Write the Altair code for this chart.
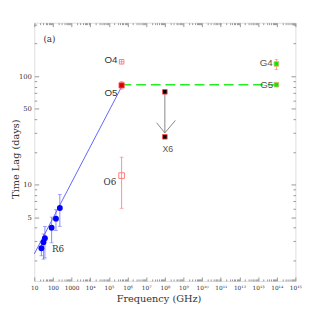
import altair as alt
import pandas as pd

# ---- data ----
R6_FREQ = [24, 31, 37, 85, 145, 234]
R6_LAG = [2.58, 2.94, 3.2, 3.99, 4.84, 6.08]
R6_LO = [2.2, 2.05, 2.1, 2.9, 3.77, 4.12]
R6_HI = [3.0, 3.5, 4.1, 5.0, 5.86, 8.07]

FIT_FREQ = [10, 4.8e5]
FIT_LAG = [2.29, 80]

O_FREQ = 4.8e5
O4_LAG = 136
O5_LAG, O5_LO, O5_HI = 82.4, 76, 89.6
O6_LAG, O6_LO, O6_HI = 12.1, 6.04, 17.9

X6_FREQ = 1e8
X6_UPPER, X6_LOWER = 71.8, 27.6
ARROW_TIP = 30
ARROW_WING_FREQ = [3.6e7, 3.67e8]
ARROW_WING_LAG = [37.2, 39.1]

G_FREQ = 9.6e13
G4_LAG, G4_LO, G4_HI = 130, 115, 143
G5_LAG = 83.6

DASH_FREQ = [4.8e5, 9.6e13]
DASH_LAG = [83.6, 83.6]

X_TICK_LABELS = ["", "10", "100", "1000", "10⁴", "10⁵", "10⁶", "10⁷", "10⁸",
                 "10⁹", "10¹⁰", "10¹¹", "10¹²", "10¹³", "10¹⁴", "10¹⁵"]
Y_LABELED = [5, 10, 50, 100]

# ---- layout ----
W, H = 268, 265
x_ticks = [m * 10 ** e for e in range(1, 15) for m in range(1, 10)] + [1e15]
y_ticks = [m * 10 ** e for e in range(0, 3) for m in range(1, 10)]
y_ticks = [v for v in y_ticks if 1.29 <= v <= 312]

lab_arr = "[" + ",".join("'" + s + "'" for s in X_TICK_LABELS) + "]"
dec_test = "abs(log(datum.value)/LN10 - round(log(datum.value)/LN10)) < 0.001"

xaxis = alt.Axis(
    values=x_ticks, domain=False, ticks=False, grid=True,
    gridColor="#8a8a8a", gridWidth=0.9,
    gridDash={"condition": {"test": dec_test, "value": [4, H - 8]}, "value": [2, H - 4]},
    labelExpr=f"{dec_test} ? {lab_arr}[round(log(datum.value)/LN10)] : ''",
    labelFont="DejaVu Serif", labelFontSize=6, labelColor="#333",
    labelPadding=4, labelFlush=False, labelOverlap=False,
    title="Frequency (GHz)", titleFont="DejaVu Serif", titleFontSize=10,
    titleFontWeight="normal", titleColor="#333",
    titleX=127.5, titleY=18, titleAlign="center", titleBaseline="middle",
)
ylab_test = "indexof([5,10,50,100], datum.value) >= 0"
yaxis = alt.Axis(
    values=y_ticks, domain=False, ticks=False, grid=True,
    gridColor="#8a8a8a", gridWidth=0.9,
    gridDash={"condition": {"test": ylab_test, "value": [4.5, W - 9]}, "value": [2.5, W - 5]},
    labelExpr=f"{ylab_test} ? format(datum.value, 'd') : ''",
    labelFont="DejaVu Serif", labelFontSize=7, labelColor="#333",
    labelPadding=3, labelFlush=False, labelOverlap=False,
    title="Time Lag (days)", titleFont="DejaVu Serif", titleFontSize=10,
    titleFontWeight="normal", titleColor="#333",
    titleX=-19.5, titleY=139.5, titleAngle=270, titleAlign="center", titleBaseline="middle",
)
xs = alt.Scale(type="log", domain=[10, 1e15], nice=False)
ys = alt.Scale(type="log", domain=[1.29, 312], nice=False)


def X(f="f"):
    return alt.X(f"{f}:Q", scale=xs, axis=xaxis)


def Y(f="v"):
    return alt.Y(f"{f}:Q", scale=ys, axis=yaxis)


def df(**kw):
    return pd.DataFrame(kw)


layers = []

# fitted line through radio + optical
layers.append(alt.Chart(df(f=FIT_FREQ, v=FIT_LAG)).mark_line(color="#3a3aff", strokeWidth=0.8)
              .encode(x=X(), y=Y()))
# green dashed line
layers.append(alt.Chart(df(f=DASH_FREQ, v=DASH_LAG)).mark_line(color="#22ee22", strokeWidth=1.5,
                                                              strokeDash=[10, 5])
              .encode(x=X(), y=Y()))

# R6 error bars
r6 = df(f=R6_FREQ, v=R6_LAG, lo=R6_LO, hi=R6_HI)
layers.append(alt.Chart(r6).mark_rule(color="#6a6aff", strokeWidth=0.8)
              .encode(x=X(), y=Y("lo"), y2="hi:Q"))
caps = df(f=R6_FREQ + R6_FREQ, v=R6_LO + R6_HI)
layers.append(alt.Chart(caps).mark_tick(orient="horizontal", size=4, thickness=0.8, color="#6a6aff")
              .encode(x=X(), y=Y()))
layers.append(alt.Chart(r6).mark_circle(size=36, color="#0000ff", opacity=1)
              .encode(x=X(), y=Y()))

# optical O5 / O6 error bars
oerr = df(f=[O_FREQ, O_FREQ], lo=[O5_LO, O6_LO], hi=[O5_HI, O6_HI])
layers.append(alt.Chart(oerr).mark_rule(color="#ff7070", strokeWidth=0.8)
              .encode(x=X(), y=Y("lo"), y2="hi:Q"))
ocaps = df(f=[O_FREQ] * 4, v=[O5_LO, O5_HI, O6_LO, O6_HI])
layers.append(alt.Chart(ocaps).mark_tick(orient="horizontal", size=4, thickness=0.8, color="#ff7070")
              .encode(x=X(), y=Y()))
# O5 filled square
layers.append(alt.Chart(df(f=[O_FREQ], v=[O5_LAG])).mark_point(shape="square", filled=True, size=30,
                                                              color="#e00000", opacity=1,
                                                              stroke="#ff6060", strokeWidth=0.8)
              .encode(x=X(), y=Y()))
# O4 / O6 open squares
layers.append(alt.Chart(df(f=[O_FREQ, O_FREQ], v=[O4_LAG, O6_LAG], s=[22, 34])).mark_point(
    shape="square", filled=False, color="#ff7070", strokeWidth=0.9, opacity=1)
    .encode(x=X(), y=Y(), size=alt.Size("s:Q", scale=None, legend=None)))
layers.append(alt.Chart(df(f=[O_FREQ], v=[O4_LAG])).mark_point(
    shape="M-1,0L1,0M0,-1L0,1", filled=False, size=20, color="#ff7070", strokeWidth=0.7, opacity=1)
    .encode(x=X(), y=Y()))

# X6 arrow
layers.append(alt.Chart(df(f=[X6_FREQ], v=[X6_UPPER], v2=[ARROW_TIP])).mark_rule(color="#777", strokeWidth=0.9)
              .encode(x=X(), y=Y(), y2="v2:Q"))
wings = df(f=ARROW_WING_FREQ, v=ARROW_WING_LAG, f2=[X6_FREQ, X6_FREQ], v2=[ARROW_TIP, ARROW_TIP])
layers.append(alt.Chart(wings).mark_rule(color="#777", strokeWidth=0.9)
              .encode(x=X(), y=Y(), x2="f2:Q", y2="v2:Q"))
layers.append(alt.Chart(df(f=[X6_FREQ, X6_FREQ], v=[X6_UPPER, X6_LOWER])).mark_point(
    shape="square", filled=True, size=22, color="#000", stroke="#ff5050", strokeWidth=0.9, opacity=1)
    .encode(x=X(), y=Y()))

# G4 / G5
layers.append(alt.Chart(df(f=[G_FREQ], lo=[G4_LO], hi=[G4_HI])).mark_rule(color="#ff8080", strokeWidth=0.8)
              .encode(x=X(), y=Y("lo"), y2="hi:Q"))
layers.append(alt.Chart(df(f=[G_FREQ, G_FREQ], v=[G4_LO, G4_HI])).mark_tick(
    orient="horizontal", size=4, thickness=0.8, color="#ff8080")
    .encode(x=X(), y=Y()))
layers.append(alt.Chart(df(f=[G_FREQ, G_FREQ], v=[G4_LAG, G5_LAG])).mark_point(
    shape="square", filled=True, size=24, color="#00ee00", stroke="#ffb080", strokeWidth=0.8, opacity=1)
    .encode(x=X(), y=Y()))

# labels anchored at their points
labels = [
    ("O4", O_FREQ, O4_LAG, -11, -2, "Liberation Sans", 10, "#333"),
    ("O5", O_FREQ, O5_LAG, -11, 8, "Liberation Sans", 10, "#333"),
    ("O6", O_FREQ, O6_LAG, -12, 7, "DejaVu Serif", 9, "#333"),
    ("R6", R6_FREQ[0], R6_LAG[0], 17, 1, "DejaVu Serif", 9, "#333"),
    ("X6", X6_FREQ, X6_LOWER, 3, 13, "Liberation Sans", 9, "#555"),
    ("G4", G_FREQ, G4_LAG, -10.5, -1, "Liberation Sans", 10, "#555"),
    ("G5", G_FREQ, G5_LAG, -10, 0, "Liberation Sans", 10, "#555"),
]
for t, f, v, dx, dy, font, fs, col in labels:
    layers.append(alt.Chart(df(f=[f], v=[v], t=[t])).mark_text(
        dx=dx, dy=dy, font=font, fontSize=fs, color=col, align="center", baseline="middle")
        .encode(x=X(), y=Y(), text="t:N"))

layers.append(alt.Chart(df(t=["(a)"])).mark_text(
    font="DejaVu Serif", fontSize=9, color="#333", align="center", baseline="middle")
    .encode(x=alt.value(15.5), y=alt.value(17), text="t:N"))

chart = alt.layer(*layers).properties(
    width=W, height=H,
    autosize=alt.AutoSizeParams(type="none"),
    padding={"left": 27, "top": 11, "right": 16, "bottom": 35},
).configure_view(stroke="#8c8c8c", strokeWidth=1.2).configure(background="white")

chart.save("out.html", embed_options={"renderer": "svg", "actions": False})
